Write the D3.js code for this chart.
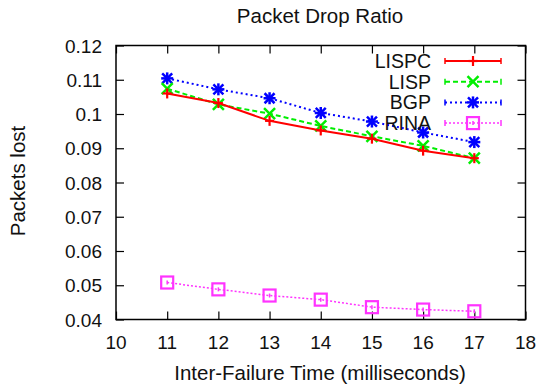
<!DOCTYPE html>
<html>
<head>
<meta charset="utf-8">
<script src="https://cdn.jsdelivr.net/npm/d3@7"></script>
<style>
  body { margin: 0; background: #fff; }
  text { font-family: "Liberation Sans", Arial, sans-serif; fill: #111; }
</style>
</head>
<body>
<div class="canvas"></div>
<script>
// data
const xValues = [11, 12, 13, 14, 15, 16, 17];
const lispc = [0.1060, 0.1032, 0.0980, 0.0952, 0.0928, 0.0893, 0.0871];
const lisp  = [0.1074, 0.1028, 0.1001, 0.0965, 0.0935, 0.0907, 0.0871];
const bgp   = [0.1104, 0.1072, 0.1046, 0.1003, 0.0978, 0.0946, 0.0918];
const rina  = [0.0508, 0.0488, 0.0470, 0.0458, 0.0436, 0.0429, 0.0424];
const seriesNames = ["LISPC", "LISP", "BGP", "RINA"];
const xTicks = [10, 11, 12, 13, 14, 15, 16, 17, 18];
const yTicks = [0.04, 0.05, 0.06, 0.07, 0.08, 0.09, 0.1, 0.11, 0.12];

const width = 540;
const height = 385;
const marginTop = 45.5;
const marginRight = 14.5;
const marginBottom = 65.5;
const marginLeft = 116;

const series = [
  {name: seriesNames[0], values: lispc, color: "#ff0000", width: 2, dash: null, mark: "plus"},
  {name: seriesNames[1], values: lisp,  color: "#00ee00", width: 2, dash: "5,3", mark: "cross"},
  {name: seriesNames[2], values: bgp,   color: "#0000ff", width: 2, dash: "2,3", mark: "star"},
  {name: seriesNames[3], values: rina,  color: "#ff33ff", width: 1.5, dash: "2,2", mark: "square"}
];

const x = d3.scaleLinear().domain([10, 18]).range([marginLeft, width - marginRight]);
const y = d3.scaleLinear().domain([0.04, 0.12]).range([height - marginBottom, marginTop]);

const svg = d3.select(".canvas").append("svg")
  .attr("width", width)
  .attr("height", height);

function label(tx, ty, str, anchor, size, rot) {
  return svg.append("text")
    .attr("transform", `translate(${tx},${ty})` + (rot ? ` rotate(${rot})` : ""))
    .attr("text-anchor", anchor)
    .style("font-size", size + "px")
    .text(str);
}

// axes (ticks inside, mirrored)
const tickLen = 8;
svg.append("g")
  .attr("transform", `translate(0,${y(0.04)})`)
  .call(d3.axisBottom(x).tickValues(xTicks).tickSize(-tickLen).tickFormat(""))
  .call(g => g.select(".domain").remove());
svg.append("g")
  .attr("transform", `translate(0,${y(0.12)})`)
  .call(d3.axisTop(x).tickValues(xTicks).tickSize(-tickLen).tickFormat(""))
  .call(g => g.select(".domain").remove());
svg.append("g")
  .attr("transform", `translate(${x(10)},0)`)
  .call(d3.axisLeft(y).tickValues(yTicks).tickSize(-tickLen).tickFormat(""))
  .call(g => g.select(".domain").remove());
svg.append("g")
  .attr("transform", `translate(${x(18)},0)`)
  .call(d3.axisRight(y).tickValues(yTicks).tickSize(-tickLen).tickFormat(""))
  .call(g => g.select(".domain").remove());
svg.selectAll(".tick line").attr("stroke", "#000").attr("stroke-width", 1.2);

svg.append("rect")
  .attr("x", x(10)).attr("y", y(0.12))
  .attr("width", x(18) - x(10)).attr("height", y(0.04) - y(0.12))
  .attr("fill", "none").attr("stroke", "#000").attr("stroke-width", 1.5);

// tick labels
xTicks.forEach(t => label(x(t), y(0.04) + 29, t, "middle", 19));
yTicks.forEach(t => label(x(10) - 14, y(t) + 7, d3.format("")(+t.toFixed(2)), "end", 19));

// titles
label(320, 22.5, "Packet Drop Ratio", "middle", 20.5);
label(320, 379.5, "Inter-Failure Time (milliseconds)", "middle", 20.5);
label(24.5, 181, "Packets lost", "middle", 20.5, -90);

function drawMark(g, kind, cx, cy, color) {
  const st = (sel, w) => sel.attr("stroke", color).attr("stroke-width", w || 2).attr("fill", "none");
  if (kind === "plus") {
    st(g.append("line").attr("x1", cx - 4.5).attr("x2", cx + 4.5).attr("y1", cy).attr("y2", cy), 2.2);
    st(g.append("line").attr("x1", cx).attr("x2", cx).attr("y1", cy - 5).attr("y2", cy + 5), 2.2);
  }
  if (kind === "star") {
    st(g.append("line").attr("x1", cx - 6).attr("x2", cx + 6).attr("y1", cy).attr("y2", cy), 2.5);
    st(g.append("line").attr("x1", cx).attr("x2", cx).attr("y1", cy - 6).attr("y2", cy + 6), 2.5);
    st(g.append("line").attr("x1", cx - 5).attr("x2", cx + 5).attr("y1", cy - 5).attr("y2", cy + 5), 2.5);
    st(g.append("line").attr("x1", cx - 5).attr("x2", cx + 5).attr("y1", cy + 5).attr("y2", cy - 5), 2.5);
  }
  if (kind === "cross") {
    st(g.append("line").attr("x1", cx - 5.5).attr("x2", cx + 5.5).attr("y1", cy - 5.5).attr("y2", cy + 5.5), 2.5);
    st(g.append("line").attr("x1", cx - 5.5).attr("x2", cx + 5.5).attr("y1", cy + 5.5).attr("y2", cy - 5.5), 2.5);
  }
  if (kind === "square") {
    st(g.append("rect").attr("x", cx - 6).attr("y", cy - 6).attr("width", 12).attr("height", 12), 2.2);
    st(g.append("line").attr("x1", cx).attr("x2", cx).attr("y1", cy - 2).attr("y2", cy + 2), 1.5);
  }
}

const line = d3.line().x(d => x(d[0])).y(d => y(d[1]));

// draw back to front: RINA, BGP, LISP, LISPC
series.slice().reverse().forEach(s => {
  const pts = xValues.map((v, i) => [v, s.values[i]]);
  svg.append("path")
    .datum(pts)
    .attr("d", line)
    .attr("fill", "none")
    .attr("stroke", s.color)
    .attr("stroke-width", s.width)
    .attr("stroke-dasharray", s.dash);
  const g = svg.append("g");
  pts.forEach(p => drawMark(g, s.mark, x(p[0]), y(p[1]), s.color));
});

// legend
const legendTextX = 431;
const legendY0 = 61;
const legendStep = 20.7;
series.forEach((s, i) => {
  const ly = legendY0 + i * legendStep;
  label(legendTextX, ly + 7, s.name, "end", 19.5);
  const g = svg.append("g");
  g.append("line")
    .attr("x1", 445).attr("x2", 501).attr("y1", ly).attr("y2", ly)
    .attr("stroke", s.color).attr("stroke-width", s.width)
    .attr("stroke-dasharray", s.dash);
  [445, 501].forEach(ex => g.append("line")
    .attr("x1", ex).attr("x2", ex).attr("y1", ly - 3).attr("y2", ly + 3)
    .attr("stroke", s.color).attr("stroke-width", 1.5));
  drawMark(g, s.mark, 473, ly, s.color);
});
</script>
</body>
</html>
